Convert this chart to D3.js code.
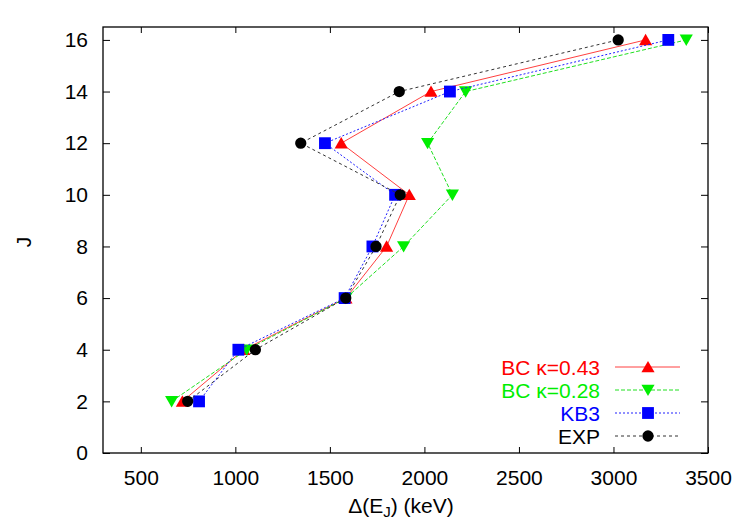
<!DOCTYPE html>
<html>
<head>
<meta charset="utf-8">
<script src="https://cdn.jsdelivr.net/npm/d3@7"></script>
<style>
  html, body { margin: 0; padding: 0; background: #fff; }
</style>
</head>
<body>
<svg id="chart" width="747" height="523"></svg>
<script>
/* Δ(E_J) vs J — BC / KB3 / EXP */

const J_VALUES = [2, 4, 6, 8, 10, 12, 14, 16];
const BC043 = [720, 1045, 1585, 1800, 1920, 1560, 2035, 3170];
const BC028 = [663, 1060, 1585, 1890, 2148, 2017, 2218, 3385];
const KB3 = [808, 1016, 1578, 1725, 1845, 1474, 2135, 3290];
const EXP = [748, 1106, 1584, 1744, 1872, 1346, 1867, 3025];

const X_TICKS = [500, 1000, 1500, 2000, 2500, 3000, 3500];
const Y_TICKS = [0, 2, 4, 6, 8, 10, 12, 14, 16];

const SERIES = [
  { name: "BC \u03ba=0.43", values: BC043, color: "#ff0000", line: "#ff4040", dash: null, width: 1, shape: "up" },
  { name: "BC \u03ba=0.28", values: BC028, color: "#00ee00", line: "#20e020", dash: "4,2", width: 1, shape: "down" },
  { name: "KB3", values: KB3, color: "#0000ff", line: "#2020ff", dash: "2,2", width: 1, shape: "square" },
  { name: "EXP", values: EXP, color: "#000000", line: "#333333", dash: "3,3", width: 1, shape: "circle" }
];

const FONT = "'Liberation Sans', Arial, Helvetica, sans-serif";

function styleText(sel){
  return sel
    .style("font-family", FONT)
    .style("font-size", "21px");
}

function renderChart(){
  const svg = d3.select("#chart");
  const L = 103, R = 708, T = 27, B = 453;

  const x = d3.scaleLinear().domain([300, 3500]).range([L, R]);
  const y = d3.scaleLinear().domain([0, 16.5]).range([B, T]);

  const g = svg.append("g");

  // ticks on all four sides, pointing in
  g.append("g")
    .attr("transform", `translate(0,${B})`)
    .call(d3.axisBottom(x).tickValues(X_TICKS).tickFormat(d3.format("d")).tickSize(-6).tickSizeOuter(0))
    .call(a => a.select(".domain").remove())
    .selectAll("text").attr("fill", "#000").attr("y", 32).attr("dy", null)
    .call(styleText);

  g.append("g")
    .attr("transform", `translate(0,${T})`)
    .call(d3.axisTop(x).tickValues(X_TICKS).tickSize(-6).tickFormat("").tickSizeOuter(0))
    .call(a => a.select(".domain").remove());

  g.append("g")
    .attr("transform", `translate(${L},0)`)
    .call(d3.axisLeft(y).tickValues(Y_TICKS).tickSize(-7).tickPadding(15).tickSizeOuter(0))
    .call(a => a.select(".domain").remove())
    .selectAll("text").attr("fill", "#000")
    .call(styleText);

  g.append("g")
    .attr("transform", `translate(${R},0)`)
    .call(d3.axisRight(y).tickValues(Y_TICKS).tickSize(-7).tickFormat("").tickSizeOuter(0))
    .call(a => a.select(".domain").remove());

  g.selectAll(".tick line").attr("stroke", "#000").attr("stroke-width", 1);

  g.append("rect")
    .attr("x", L).attr("y", T).attr("width", R - L).attr("height", B - T)
    .attr("fill", "none").attr("stroke", "#000").attr("stroke-width", 1.3);

  const sym = {
    up: d3.symbol().type(d3.symbolTriangle).size(75),
    down: d3.symbol().type(d3.symbolTriangle).size(75),
    square: d3.symbol().type(d3.symbolSquare).size(140),
    circle: d3.symbol().type(d3.symbolCircle).size(100)
  };
  const symPos = (s, px, py) =>
    `translate(${px},${py + (s.shape === "up" ? 1.5 : s.shape === "down" ? -1.5 : 0)})` +
    (s.shape === "down" ? " rotate(180)" : "");

  const line = d3.line().x(d => x(d.v)).y(d => y(d.j));

  SERIES.forEach(s => {
    const pts = J_VALUES.map((j, i) => ({ j, v: s.values[i] }));
    g.append("path")
      .datum(pts)
      .attr("d", line)
      .attr("fill", "none")
      .attr("stroke", s.line)
      .attr("stroke-width", s.width)
      .attr("stroke-dasharray", s.dash);

    g.selectAll(null)
      .data(pts)
      .enter().append("path")
      .attr("d", sym[s.shape])
      .attr("transform", d => symPos(s, x(d.v), y(d.j)))
      .attr("fill", s.color);
  });

  // legend
  const leg = g.append("g");
  const rowY = [367, 390, 413, 436];
  SERIES.forEach((s, i) => {
    const yy = rowY[i];
    leg.append("text")
      .attr("x", 600).attr("y", yy)
      .attr("dy", "0.36em")
      .attr("text-anchor", "end")
      .attr("fill", s.color)
      .text(s.name)
      .call(styleText);
    leg.append("line")
      .attr("x1", 615).attr("x2", 680).attr("y1", yy).attr("y2", yy)
      .attr("stroke", s.line).attr("stroke-width", s.width)
      .attr("stroke-dasharray", s.dash);
    leg.append("path")
      .attr("d", sym[s.shape])
      .attr("transform", symPos(s, 648, yy))
      .attr("fill", s.color);
  });

  // axis titles
  g.append("text")
    .attr("transform", "translate(24,242) rotate(-90)")
    .attr("text-anchor", "middle")
    .attr("dy", "0.35em")
    .text("J")
    .call(styleText);

  const xt = g.append("text")
    .attr("x", 401).attr("y", 513)
    .attr("text-anchor", "middle")
    .call(styleText);
  xt.append("tspan").text("\u0394(E");
  xt.append("tspan").attr("dy", 4).style("font-size", "15px").text("J");
  xt.append("tspan").attr("dy", -4).text(") (keV)");
}

renderChart();
</script>
</body>
</html>
